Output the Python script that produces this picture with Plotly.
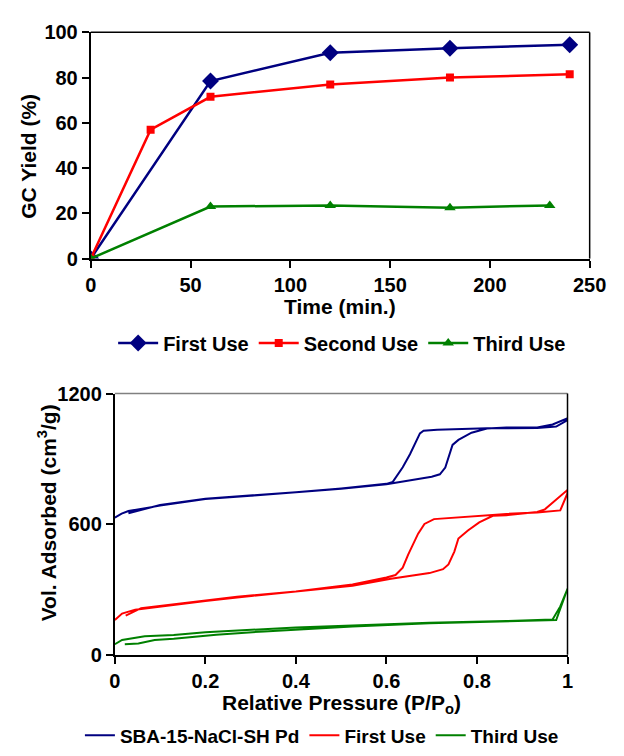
import plotly.graph_objects as go

# ---------- Top chart data ----------
t_first = [0, 60, 120, 180, 240]
y_first = [0, 78.5, 91, 93, 94.5]
t_second = [0, 30, 60, 120, 180, 240]
y_second = [0, 57, 71.5, 77, 80, 81.5]
t_third = [0, 60, 120, 180, 230]
y_third = [0, 23, 23.5, 22.5, 23.5]

# ---------- Bottom chart data (adsorption then desorption) ----------
p_sba = [0.0, 0.015, 0.03, 0.06, 0.1, 0.15, 0.2, 0.3, 0.4, 0.5, 0.6, 0.65, 0.7, 0.718, 0.73,
         0.746, 0.759, 0.788, 0.822, 0.865, 0.933, 0.967, 1.0,
         1.0, 0.975, 0.933, 0.822, 0.712, 0.682, 0.674, 0.652, 0.636, 0.614, 0.6, 0.5, 0.4,
         0.3, 0.2, 0.1, 0.06, 0.03]
v_sba = [630, 648, 660, 672, 685, 700, 715, 730, 745, 762, 783, 800, 818, 829, 860,
         964, 987, 1020, 1039, 1044, 1044, 1058, 1086,
         1078, 1048, 1042, 1040, 1034, 1029, 1017, 921, 861, 794, 785, 764, 747,
         732, 717, 688, 668, 650]

p_first = [0.0, 0.016, 0.045, 0.116, 0.2, 0.27, 0.4, 0.525, 0.61, 0.652, 0.695, 0.725, 0.737,
           0.75, 0.759, 0.78, 0.805, 0.835, 0.865, 0.933, 0.95, 1.0,
           1.0, 0.984, 0.933, 0.865, 0.788, 0.737, 0.705, 0.684, 0.67, 0.648, 0.636, 0.62,
           0.6, 0.525, 0.4, 0.27, 0.143, 0.058, 0.024]
v_first = [159, 189, 207, 226, 247, 263, 289, 317, 349, 361, 375, 393, 415,
           474, 534, 571, 608, 638, 641, 656, 668, 757,
           742, 663, 653, 647, 635, 630, 623, 601, 556, 460, 400, 366,
           355, 323, 291, 266, 236, 214, 180]

p_third = [0.0, 0.016, 0.066, 0.13, 0.2, 0.295, 0.4, 0.525, 0.695, 0.865, 0.95, 0.967,
           0.984, 1.0,
           1.0, 0.975, 0.865, 0.695, 0.525, 0.4, 0.33, 0.224, 0.13, 0.088, 0.052, 0.022]
v_third = [48, 68, 85, 91, 103, 115, 125, 134, 147, 155, 159, 162,
           222, 303,
           303, 159, 153, 145, 130, 117, 107, 92, 73, 68, 52, 48]

NAVY = "#000080"
RED = "#FF0000"
GREEN = "#008000"
FONT = "Liberation Sans, Arial, sans-serif"

fig = go.Figure()

fig.add_trace(go.Scatter(x=t_first, y=y_first, name="First Use", mode="lines+markers",
                         line=dict(color=NAVY, width=2.5),
                         marker=dict(symbol="diamond", size=13, color=NAVY),
                         xaxis="x", yaxis="y", legend="legend"))
fig.add_trace(go.Scatter(x=t_second, y=y_second, name="Second Use", mode="lines+markers",
                         line=dict(color=RED, width=2.5),
                         marker=dict(symbol="square", size=8, color=RED),
                         xaxis="x", yaxis="y", legend="legend"))
fig.add_trace(go.Scatter(x=t_third, y=y_third, name="Third Use", mode="lines+markers",
                         line=dict(color=GREEN, width=2.5),
                         marker=dict(symbol="triangle-up", size=10, color=GREEN),
                         xaxis="x", yaxis="y", legend="legend"))

fig.add_trace(go.Scatter(x=p_sba, y=v_sba, name="SBA-15-NaCl-SH Pd", mode="lines",
                         line=dict(color=NAVY, width=2),
                         xaxis="x2", yaxis="y2", legend="legend2"))
fig.add_trace(go.Scatter(x=p_first, y=v_first, name="First Use", mode="lines",
                         line=dict(color=RED, width=2),
                         xaxis="x2", yaxis="y2", legend="legend2"))
fig.add_trace(go.Scatter(x=p_third, y=v_third, name="Third Use", mode="lines",
                         line=dict(color=GREEN, width=2),
                         xaxis="x2", yaxis="y2", legend="legend2"))

W, H = 624, 756
def px(x):
    return x / W
def py(y):
    return 1 - y / H

tickfont = dict(family=FONT, size=20, color="black", weight="bold")
axis_common = dict(showgrid=False, zeroline=False, showline=True, linecolor="black",
                   linewidth=2, ticks="outside", ticklen=7, tickwidth=2, tickcolor="black",
                   tickfont=tickfont, mirror=False)

fig.update_layout(
    width=W, height=H,
    margin=dict(l=0, r=0, t=0, b=0),
    paper_bgcolor="white", plot_bgcolor="white",
    xaxis=dict(domain=[px(88), px(606)], range=[0, 250], tickvals=[0, 50, 100, 150, 200, 250],
               anchor="y", **axis_common),
    yaxis=dict(domain=[py(255), py(22)], range=[0, 100], tickvals=[0, 20, 40, 60, 80, 100],
               anchor="x", **axis_common),
    xaxis2=dict(domain=[px(113), px(583)], range=[0, 1], tickvals=[0, 0.2, 0.4, 0.6, 0.8, 1],
                ticktext=["0", "0.2", "0.4", "0.6", "0.8", "1"],
                anchor="y2", **axis_common),
    yaxis2=dict(domain=[py(663), py(394)], range=[0, 1200], tickvals=[0, 600, 1200],
                anchor="x2", **axis_common),
    legend=dict(orientation="h", x=px(349), xanchor="center", y=py(342), yanchor="middle",
                font=dict(family=FONT, size=20, color="black", weight="bold"),
                bgcolor="rgba(0,0,0,0)", itemwidth=40, tracegroupgap=0),
    legend2=dict(orientation="h", x=px(328), xanchor="center", y=py(746), yanchor="middle",
                 font=dict(family=FONT, size=19, color="black", weight="bold"),
                 bgcolor="rgba(0,0,0,0)", itemwidth=30, tracegroupgap=0),
    showlegend=True,
)

# plot-area borders (top/right)
fig.add_shape(type="line", xref="paper", yref="paper", x0=px(88), x1=px(606), y0=py(22), y1=py(22),
              line=dict(color="black", width=1.5))
fig.add_shape(type="line", xref="paper", yref="paper", x0=px(606), x1=px(606), y0=py(22), y1=py(255),
              line=dict(color="black", width=1.5))
fig.add_shape(type="line", xref="paper", yref="paper", x0=px(113), x1=px(583), y0=py(394), y1=py(394),
              line=dict(color="#808080", width=1.5))
fig.add_shape(type="line", xref="paper", yref="paper", x0=px(583), x1=px(583), y0=py(394), y1=py(663),
              line=dict(color="black", width=1.5))

titlefont = dict(family=FONT, size=21, color="black", weight="bold")
fig.add_annotation(text="Time (min.)", xref="paper", yref="paper", x=px(347), y=py(304),
                   showarrow=False, font=titlefont, xanchor="center", yanchor="middle")
fig.add_annotation(text="GC Yield (%)", xref="paper", yref="paper", x=px(24), y=py(150),
                   showarrow=False, font=titlefont, textangle=-90, xanchor="center", yanchor="middle")
fig.add_annotation(text="Relative Pressure (P/P<sub>o</sub>)", xref="paper", yref="paper",
                   x=px(348), y=py(714), showarrow=False, font=titlefont,
                   xanchor="center", yanchor="middle")
fig.add_annotation(text="Vol. Adsorbed (cm<sup>3</sup>/g)", xref="paper", yref="paper",
                   x=px(43), y=py(517), showarrow=False, font=titlefont, textangle=-90,
                   xanchor="center", yanchor="middle")

fig.write_html("out.html")
